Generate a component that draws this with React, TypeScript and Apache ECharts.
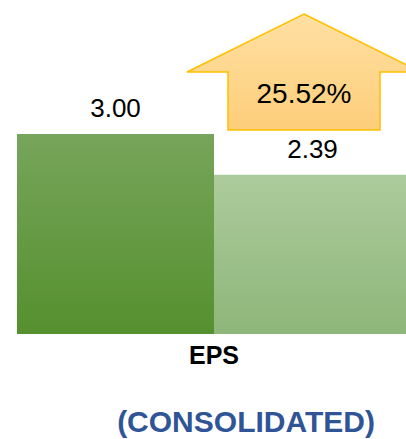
import React, { useEffect, useRef } from "react";
import * as echarts from "echarts";

const categories = ["EPS"];
const currentValues = [3.0];
const previousValues = [2.39];
const subtitle = "(CONSOLIDATED)";

const growth = ((currentValues[0] - previousValues[0]) / previousValues[0]) * 100;
const growthLabel = growth.toFixed(2) + "%";

export default function App() {
  const ref = useRef<HTMLDivElement>(null);
  useEffect(() => {
    if (!ref.current) return;
    const chart = echarts.init(ref.current, undefined, { renderer: "svg" });
    const font = "Liberation Sans, Arial, sans-serif";
    const label = {
      show: true,
      position: "top",
      distance: 13,
      formatter: (p: any) => p.value.toFixed(2),
      color: "#000000",
      fontSize: 26,
      fontFamily: font,
    };
    chart.setOption({
      animation: false,
      backgroundColor: "#ffffff",
      grid: { left: 17, width: 394, top: 134, bottom: 105, containLabel: false },
      xAxis: {
        type: "category",
        data: categories,
        axisLine: { show: false },
        axisTick: { show: false },
        axisLabel: {
          color: "#000000",
          fontWeight: "bold",
          fontSize: 25,
          fontFamily: font,
          margin: 8,
        },
      },
      yAxis: {
        type: "value",
        min: 0,
        max: 3,
        show: false,
        splitLine: { show: false },
      },
      series: [
        {
          type: "bar",
          data: currentValues,
          barWidth: 197,
          barGap: "0%",
          itemStyle: {
            color: new echarts.graphic.LinearGradient(0, 0, 0, 1, [
              { offset: 0, color: "#77A55B" },
              { offset: 1, color: "#55902E" },
            ]),
          },
          label,
        },
        {
          type: "bar",
          data: previousValues,
          barWidth: 197,
          barGap: "0%",
          itemStyle: {
            color: new echarts.graphic.LinearGradient(0, 0, 0, 1, [
              { offset: 0, color: "#ACCB9C" },
              { offset: 1, color: "#8FB67A" },
            ]),
          },
          label,
        },
      ],
      graphic: [
        {
          type: "polygon",
          z: 10,
          shape: {
            points: [
              [304, 14],
              [421, 72],
              [380, 72],
              [380, 130],
              [228, 130],
              [228, 72],
              [187, 72],
            ],
          },
          style: {
            fill: new echarts.graphic.LinearGradient(0, 0, 0, 1, [
              { offset: 0, color: "#FFE0A3" },
              { offset: 1, color: "#FDCE7A" },
            ]),
            stroke: "#FFC000",
            lineWidth: 1.5,
          },
        },
        {
          type: "text",
          z: 11,
          x: 304,
          y: 93,
          style: {
            text: growthLabel,
            fill: "#000000",
            fontSize: 28,
            fontFamily: font,
            align: "center",
            verticalAlign: "middle",
          },
        },
        {
          type: "text",
          z: 11,
          x: 246,
          y: 421,
          style: {
            text: subtitle,
            fill: "#2F5597",
            fontSize: 30,
            lineHeight: 30,
            fontWeight: "bold",
            fontFamily: font,
            align: "center",
            verticalAlign: "middle",
          },
        },
      ],
    });
    return () => chart.dispose();
  }, []);
  return (
    <div
      style={{
        position: "fixed",
        left: 0,
        top: 0,
        width: 406,
        height: 439,
        overflow: "hidden",
      }}
    >
      <div ref={ref} style={{ width: 416, height: 439 }} />
    </div>
  );
}
